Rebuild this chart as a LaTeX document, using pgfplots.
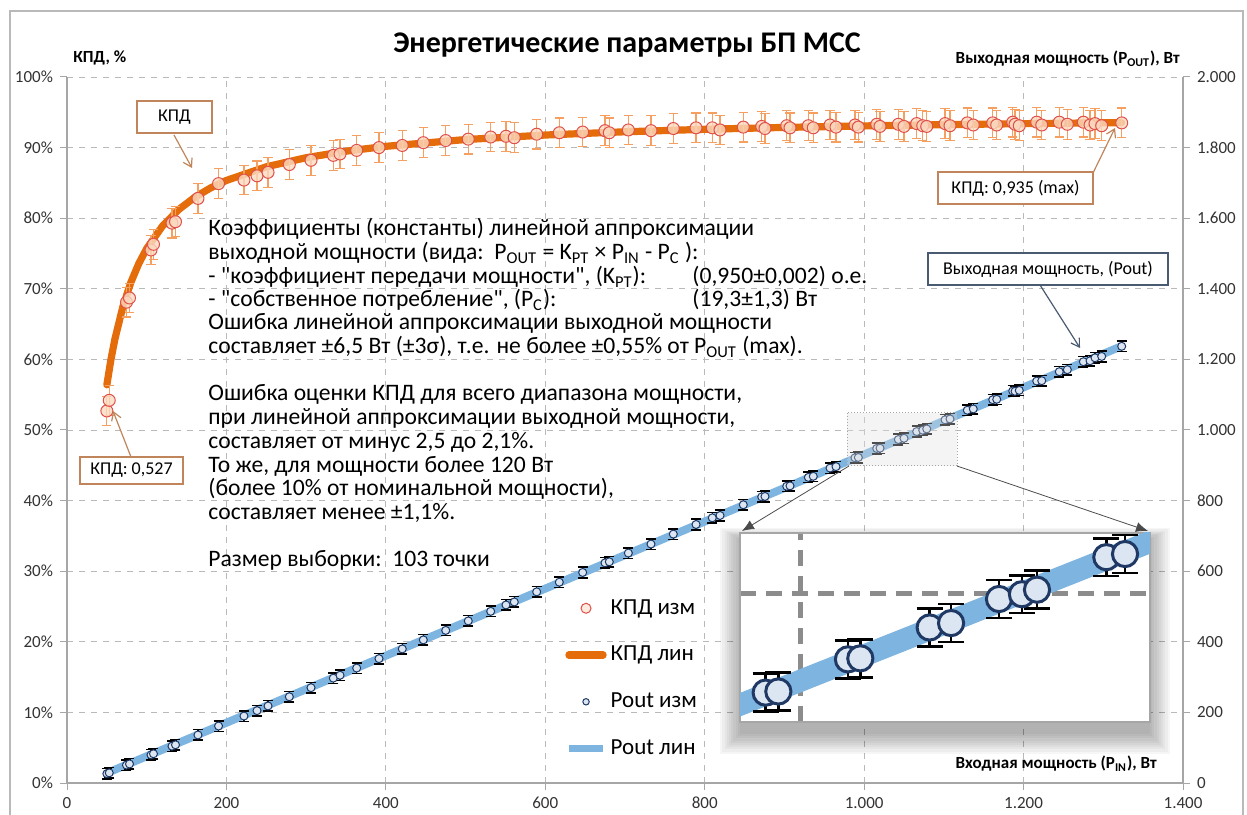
\documentclass[border=0pt]{standalone}
\usepackage{pgfplots}
\pgfplotsset{compat=1.18}
\usepackage{pgfplotstable}
\usepackage{fontspec}
\setmainfont{Carlito}[Ligatures=TeXOff]
\usetikzlibrary{arrows.meta}

\definecolor{kpdline}{HTML}{E46C0A}
\definecolor{kpdfill}{HTML}{FBD9C0}
\definecolor{kpdedge}{HTML}{E0504A}
\definecolor{kpderr}{HTML}{F5A060}
\definecolor{poutline}{HTML}{7DB4E0}
\definecolor{poutfill}{HTML}{DCE6F2}
\definecolor{poutedge}{HTML}{1F3864}
\definecolor{annbrown}{HTML}{C0855A}
\definecolor{annblue}{HTML}{4A5A70}

\pgfplotstableread{
pin eta pout
50.0 52.7 26.4
53.0 54.2 28.7
74.6 68.1 50.8
78.4 68.7 53.9
105.4 75.5 79.6
108.5 76.3 82.8
131.7 79.3 104.4
136.1 79.5 108.2
164.3 82.8 136.0
190.1 84.9 161.4
222.0 85.4 189.6
238.4 86.0 205.0
252.2 86.5 218.2
278.9 87.6 244.3
306.1 88.2 270.0
334.1 88.9 297.0
342.5 89.1 305.2
363.4 89.6 325.6
391.4 90.0 352.3
420.6 90.3 379.8
447.0 90.7 405.4
475.1 91.0 432.3
503.4 91.2 459.1
531.5 91.5 486.3
550.7 91.6 504.4
561.1 91.4 512.8
589.2 91.9 541.5
617.6 92.1 568.8
646.9 92.2 596.4
674.9 92.4 623.6
680.3 92.1 626.6
704.2 92.5 651.4
732.6 92.4 676.9
760.6 92.7 705.1
789.1 92.8 732.3
809.5 92.8 751.2
819.2 92.5 757.8
848.4 92.9 788.2
871.5 93.0 810.5
875.6 92.7 811.7
902.9 93.1 840.6
907.0 92.8 841.7
930.0 93.1 865.8
936.2 92.8 868.8
957.2 93.2 892.1
964.7 92.9 896.2
988.5 93.2 921.3
992.7 92.9 922.2
1015.8 93.3 947.7
1019.9 93.0 948.5
1042.9 93.3 973.0
1050.0 93.0 976.5
1065.9 93.4 995.6
1073.5 93.1 999.4
1078.5 93.0 1003.0
1101.5 93.4 1028.8
1107.7 93.1 1031.3
1129.4 93.5 1056.0
1136.9 93.2 1059.6
1161.3 93.5 1085.8
1166.3 93.2 1087.0
1186.4 93.6 1110.5
1189.3 93.3 1109.6
1194.6 93.1 1112.2
1216.5 93.6 1138.6
1222.8 93.2 1139.6
1244.8 93.6 1165.1
1254.9 93.3 1170.8
1275.0 93.6 1193.4
1283.4 93.2 1196.1
1289.6 93.4 1204.5
1298.0 93.1 1208.4
1323.1 93.5 1237.1
}\meas

\pgfplotstableread{
pin eta pout
50 56.40 28.2
55 59.91 32.95
60 62.83 37.7
70 67.43 47.2
80 70.88 56.7
90 73.56 66.2
100 75.70 75.7
120 78.92 94.7
140 81.21 113.7
160 82.94 132.7
180 84.28 151.7
200 85.35 170.7
250 87.28 218.2
300 88.57 265.7
350 89.49 313.2
400 90.18 360.7
500 91.14 455.7
600 91.78 550.7
700 92.24 645.7
800 92.59 740.7
900 92.86 835.7
1000 93.07 930.7
1100 93.25 1025.7
1200 93.39 1120.7
1323 93.54 1237.55
}\lin

\pgfplotsset{
  common/.style={
    at={(33.5pt,15.5pt)}, anchor=south west,
    width=558pt, height=353pt, scale only axis,
    xmin=0, xmax=1400,
    scaled ticks=false,
    tick align=outside, major tick length=3.5pt,
    tick style={gray!70, line width=0.5pt},
    axis line style={gray!70, line width=0.6pt},
    ticklabel style={font=\fontsize{8.5}{10}\selectfont, text=black!80},
    /pgf/number format/assume math mode=true,
    /pgf/number format/1000 sep={.},
  }
}

\begin{document}
\begin{tikzpicture}
\path[use as bounding box] (0,0) rectangle (623.5pt,407pt);
\draw[gray!55, line width=0.7pt] (5pt,-5pt) rectangle (621.5pt,401.5pt);

% left axis: efficiency
\begin{axis}[common,
  ymin=0, ymax=100,
  axis y line*=left, axis x line*=bottom,
  xtick={0,200,...,1400}, ytick={0,10,...,100},
  yticklabel={\pgfmathprintnumber{\tick}\%},
  grid=major, grid style={dashed, gray!55, line width=0.4pt},
]
\addplot[kpdline, line width=3.6pt, line cap=round, line join=round] table[x=pin,y=eta]{\lin};
\addplot[only marks, mark=*, mark size=3pt,
  mark options={fill=kpdfill, draw=kpdedge, line width=0.5pt, fill opacity=0.8},
  error bars/.cd, y dir=both, y fixed=2.1,
  error bar style={kpderr, line width=0.6pt},
  error mark options={rotate=90, kpderr, mark size=2.3pt, line width=0.6pt}]
  table[x=pin,y=eta]{\meas};
\end{axis}

% right axis: output power
\begin{axis}[common,
  ymin=0, ymax=2000,
  axis y line*=right, axis x line=none,
  ytick={0,200,...,2000},
  legend style={at={(0.4462,0.2663)}, anchor=north west, draw=none, fill=none,
    font=\fontsize{11.5}{13}\selectfont, row sep=10.5pt, inner sep=0pt},
  legend cell align=left,
]
\addlegendimage{only marks, mark=*, mark size=2.5pt, mark options={fill=kpdfill!50!white, draw=kpdedge, line width=0.5pt}}
\addlegendentry{КПД изм}
\addlegendimage{kpdline, line width=3.6pt, line cap=round}
\addlegendentry{КПД лин}
\addlegendimage{only marks, mark=*, mark size=1.6pt, mark options={fill=poutfill, draw=poutedge, line width=0.5pt}}
\addlegendentry{Pout изм}
\addlegendimage{poutline, line width=3.6pt}
\addlegendentry{Pout лин}
\addplot[forget plot, poutline, line width=4pt] table[x=pin,y=pout]{\lin};
\addplot[forget plot, only marks, mark=*, mark size=2pt,
  mark options={fill=poutfill, draw=poutedge, line width=0.5pt},
  error bars/.cd, y dir=both, y fixed=15,
  error bar style={black, line width=0.6pt},
  error mark options={rotate=90, black, mark size=2.5pt, line width=0.8pt}]
  table[x=pin,y=pout]{\meas};
\end{axis}

\begin{scope}[x=0.5pt, y=0.5pt]
% titles
\node[font=\bfseries\fontsize{15}{18}\selectfont] at (627,769) {Энергетические параметры БП МСС};
\node[font=\bfseries\fontsize{8.5}{10}\selectfont, anchor=west, inner sep=0] at (73,756) {КПД, \%};
\node[font=\bfseries\fontsize{8.5}{10}\selectfont, anchor=east, inner sep=0] at (1180,755) {Выходная мощность (P\textsubscript{OUT}), Вт};
\node[font=\bfseries\fontsize{8.5}{10}\selectfont, anchor=east, inner sep=0] at (1157,50) {Входная мощность (P\textsubscript{IN}), Вт};

% text block
\begin{scope}[every node/.style={anchor=west, inner sep=0, font=\fontsize{11.8}{13}\selectfont}]
\node at (208,585) {Коэффициенты (константы) линейной аппроксимации};
\node at (208,561) {выходной мощности (вида:\ \ P\textsubscript{OUT} = K\textsubscript{PT} × P\textsubscript{IN} - P\textsubscript{C} ):};
\node at (208,537) {- "коэффициент передачи мощности", (K\textsubscript{PT}):};
\node at (692,537) {(0,950±0,002) о.е.};
\node at (208,514) {- "собственное потребление", (P\textsubscript{C}):};
\node at (692,514) {(19,3±1,3) Вт};
\node at (208,491) {Ошибка линейной аппроксимации выходной мощности};
\node at (208,467) {составляет ±6,5 Вт (±3σ), т.е. не более ±0,55\% от P\textsubscript{OUT} (max).};
\node at (208,420) {Ошибка оценки КПД для всего диапазона мощности,};
\node at (208,396) {при линейной аппроксимации выходной мощности,};
\node at (208,372) {составляет от минус 2,5 до 2,1\%.};
\node at (208,348) {То же, для мощности более 120 Вт};
\node at (208,325) {(более 10\% от номинальной мощности),};
\node at (208,301) {составляет менее ±1,1\%.};
\node at (208,254) {Размер выборки:\ \ 103 точки};
\end{scope}

% callouts
\begin{scope}[every node/.style={font=\fontsize{9}{11}\selectfont, inner sep=0}]
\draw[annbrown, line width=0.6pt, -{Straight Barb[length=4pt,width=5pt]}] (174,679) -- (192,646);
\draw[annbrown, line width=0.7pt, fill=white] (137,713) rectangle (212,681);
\node at (174.5,697) {КПД};
\draw[annbrown, line width=0.6pt, -{Straight Barb[length=4pt,width=5pt]}] (131,357) -- (113,403);
\draw[annbrown, line width=0.7pt, fill=white] (80,357) rectangle (183,330);
\node at (131.5,343.5) {КПД: 0,527};
\draw[annbrown, line width=0.6pt, -{Straight Barb[length=4pt,width=5pt]}] (1093,641) -- (1115,686);
\draw[annbrown, line width=0.7pt, fill=white] (938,642) rectangle (1093,610);
\node at (1015.5,626) {КПД: 0,935 (max)};
\draw[annblue, line width=0.6pt, -{Straight Barb[length=4pt,width=5pt]}] (1040,529) -- (1080,466);
\draw[annblue, line width=0.7pt, fill=white] (928,561) rectangle (1168,529);
\node at (1048,545) {Выходная мощность, (Pout)};
\end{scope}

% zoom selection box
\draw[gray!70, densely dotted, line width=0.5pt, fill=gray!25, fill opacity=0.35] (847,401) rectangle (957,348);
\draw[black!70, line width=0.4pt, -{Latex[length=6pt,width=5pt]}] (849,348) -- (742,283);
\draw[black!70, line width=0.4pt, -{Latex[length=6pt,width=5pt]}] (957,348) -- (1148,283);

% inset shadow
\foreach \i in {0,...,9} {
  \fill[black, opacity=0.035] (740-2.2*\i, 80-2.2*\i) rectangle (1150+2.2*\i, 275+1.2*\i);
}
\end{scope}

% inset axis
\begin{axis}[
  at={(370pt,46pt)}, anchor=south west,
  width=205pt, height=94.5pt, scale only axis,
  xmin=980, xmax=1116, ymin=898, ymax=1048,
  xtick={1000}, ytick={1000},
  xticklabels={}, yticklabels={},
  major tick length=0pt,
  grid=major, grid style={gray!90, line width=2.6pt, dash pattern=on 8pt off 5pt},
  axis line style={gray!70, line width=0.7pt},
  axis background/.style={fill=white},
]
\addplot[poutline, line width=11pt] table[x=pin,y=pout]{\lin};
\addplot[only marks, mark=*, mark size=6.3pt,
  mark options={fill=poutfill, draw=poutedge, line width=1.5pt},
  error bars/.cd, y dir=both, y fixed=15,
  error bar style={black, line width=1.2pt},
  error mark options={rotate=90, black, mark size=6.5pt, line width=1.3pt}]
  table[x=pin,y=pout]{\meas};
\end{axis}
\end{tikzpicture}
\end{document}
